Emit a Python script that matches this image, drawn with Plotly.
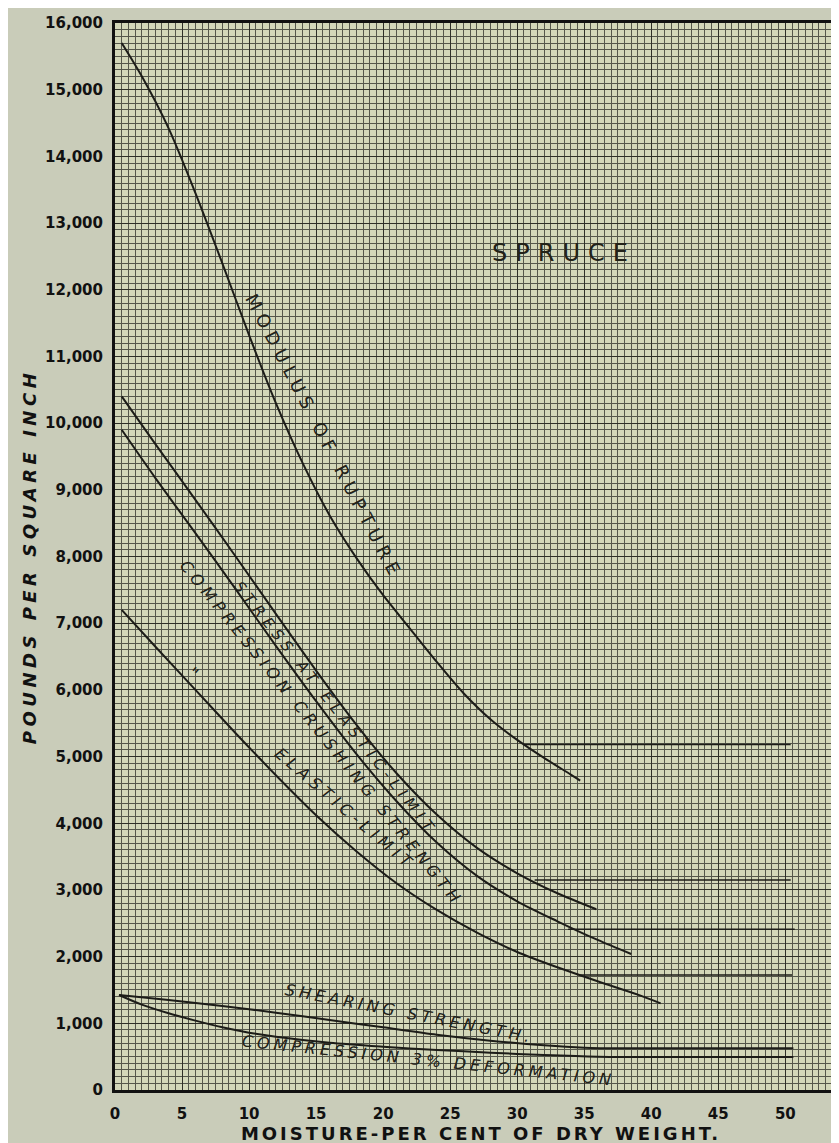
import json
import plotly.graph_objects as go

# ---------------- data ----------------
moisture_ticks = [0, 5, 10, 15, 20, 25, 30, 35, 40, 45, 50]
psi_ticks = list(range(0, 16001, 1000))
psi_ticktext = ["0"] + [f"{v:,}" for v in psi_ticks[1:]]

rupture_x = [0.5, 2, 4, 6, 8, 10, 12, 14, 16, 18, 20, 22, 24, 26, 28, 30, 32, 34, 34.7]
rupture_y = [15700, 15200, 14420, 13450, 12400, 11320, 10300, 9400, 8620, 7980,
             7420, 6920, 6420, 5950, 5560, 5250, 4980, 4730, 4640]

stress_x = [0.5, 3, 6, 9, 12, 15, 18, 21, 24, 27, 30, 33, 35.9]
stress_y = [10400, 9690, 8850, 8000, 7140, 6290, 5480, 4750, 4130, 3630, 3250, 2950, 2710]

crush_x = [0.5, 3, 6, 9, 12, 15, 18, 21, 24, 27, 30, 33, 36, 38.5]
crush_y = [9900, 9180, 8350, 7510, 6660, 5830, 5040, 4330, 3710, 3210, 2830, 2530, 2250, 2040]

comp_el_x = [0.5, 3, 6, 9, 12, 15, 18, 21, 24, 27, 30, 33, 36, 39, 40.7]
comp_el_y = [7200, 6650, 6000, 5350, 4720, 4120, 3580, 3100, 2700, 2360, 2070, 1840, 1630, 1430, 1300]

shear_x = [0.3, 4, 8, 12, 16, 20, 24, 28, 32, 35, 38, 50.6]
shear_y = [1425, 1350, 1260, 1160, 1050, 940, 830, 740, 670, 635, 625, 625]

deform_x = [0.3, 2, 4, 6, 8, 10, 12, 16, 20, 24, 28, 32, 36, 40, 50.6]
deform_y = [1425, 1280, 1150, 1040, 940, 860, 800, 710, 650, 600, 560, 525, 500, 495, 495]

# horizontal "saturated" levels: (start moisture, end moisture, value)
level_rupture = (30.5, 50.4, 5180)
level_stress = (31.3, 50.4, 3150)
level_crush = (33.8, 50.7, 2410)
level_comp_el = (34.6, 50.5, 1725)

# ---------------- figure ----------------
INK = "#1c1c18"
fig = go.Figure()

def curve(x, y, w=2.0):
    fig.add_trace(go.Scatter(x=x, y=y, mode="lines",
                             line=dict(color=INK, width=w, shape="spline", smoothing=0.8),
                             hoverinfo="skip", showlegend=False))

curve(rupture_x, rupture_y)
curve(stress_x, stress_y)
curve(crush_x, crush_y)
curve(comp_el_x, comp_el_y)
curve(shear_x, shear_y)
curve(deform_x, deform_y)
for lv in (level_rupture, level_stress, level_crush, level_comp_el):
    fig.add_trace(go.Scatter(x=[lv[0], lv[1]], y=[lv[2], lv[2]], mode="lines",
                             line=dict(color=INK, width=1.6), hoverinfo="skip", showlegend=False))

labels = [
    # text, x, y, angle, size, italic, letter-spacing
    ("MODULUS OF RUPTURE", 15.6, 9800, 62.5, 18, False, 6),
    ("STRESS AT ELASTIC-LIMIT", 16.5, 5720, 51.8, 15, True, 5.5),
    ("COMPRESSION CRUSHING STRENGTH", 15.4, 5340, 51, 16, True, 4.8),
    ("ELASTIC-LIMIT", 17.2, 4200, 40.5, 16, True, 5),
    ("\"", 5.8, 6250, 40, 17, False, 0),
    ("SHEARING STRENGTH.", 22.0, 1150, 11, 16, True, 4),
    ("COMPRESSION 3% DEFORMATION", 23.4, 440, 6, 16, True, 4),
    ("SPRUCE", 33.5, 12550, 0, 24, False, 8),
]
spacings = []
for text, x, y, ang, size, ital, ls in labels:
    fig.add_annotation(x=x, y=y, text=text, textangle=ang, showarrow=False,
                       xanchor="center", yanchor="middle",
                       font=dict(family="DejaVu Sans", size=size, color="#222219",
                                 style="italic" if ital else "normal"))
    spacings.append(ls)

axis_font = dict(family="DejaVu Sans", size=15, color="#111", weight="bold")
fig.update_xaxes(range=[0, 54.6], tickvals=moisture_ticks, ticktext=[str(v) for v in moisture_ticks],
                 tickfont=axis_font, ticklabelstandoff=8, automargin=False,
                 showgrid=True, gridcolor="#2e2f27", gridwidth=1.4, dtick=5,
                 minor=dict(dtick=0.5, showgrid=True, gridcolor="#55574b", gridwidth=1),
                 showline=True, linecolor="#111", linewidth=3, mirror=True, zeroline=False,
                 title=dict(text="MOISTURE-PER CENT OF DRY WEIGHT.", standoff=2,
                            font=dict(family="DejaVu Sans", size=18, color="#111", weight="bold")))
fig.update_yaxes(range=[0, 16000], tickvals=psi_ticks, ticktext=psi_ticktext,
                 tickfont=axis_font, ticklabelstandoff=6, automargin=False,
                 showgrid=True, gridcolor="#2e2f27", gridwidth=1.4,
                 minor=dict(dtick=100, showgrid=True, gridcolor="#55574b", gridwidth=1),
                 showline=True, linecolor="#111", linewidth=3, zeroline=False,
                 title=dict(text="POUNDS PER SQUARE INCH", standoff=4,
                            font=dict(family="DejaVu Sans", size=18, color="#111", weight="bold",
                                      style="italic")))

fig.update_layout(width=839, height=1143, margin=dict(l=107, r=0, t=15, b=61, autoexpand=False),
                  paper_bgcolor="#c9ccb9", plot_bgcolor="#d3d7b9", showlegend=False)

post = """
var gd = document.getElementById('{plot_id}');
var LS = %s;
function applyLS(){
  gd.querySelectorAll('g.annotation').forEach(function(g){
    var i = +g.getAttribute('data-index');
    if (LS[i]) { g.querySelectorAll('text').forEach(function(t){ t.style.letterSpacing = LS[i] + 'px'; }); }
  });
  var xt = gd.querySelector('.g-xtitle text'); if (xt) xt.style.letterSpacing = '3px';
  var yt = gd.querySelector('.g-ytitle text'); if (yt) yt.style.letterSpacing = '4.5px';
}
applyLS();
gd.on('plotly_afterplot', applyLS);
""" % json.dumps(spacings)

fig.write_html("out.html", post_script=post)
